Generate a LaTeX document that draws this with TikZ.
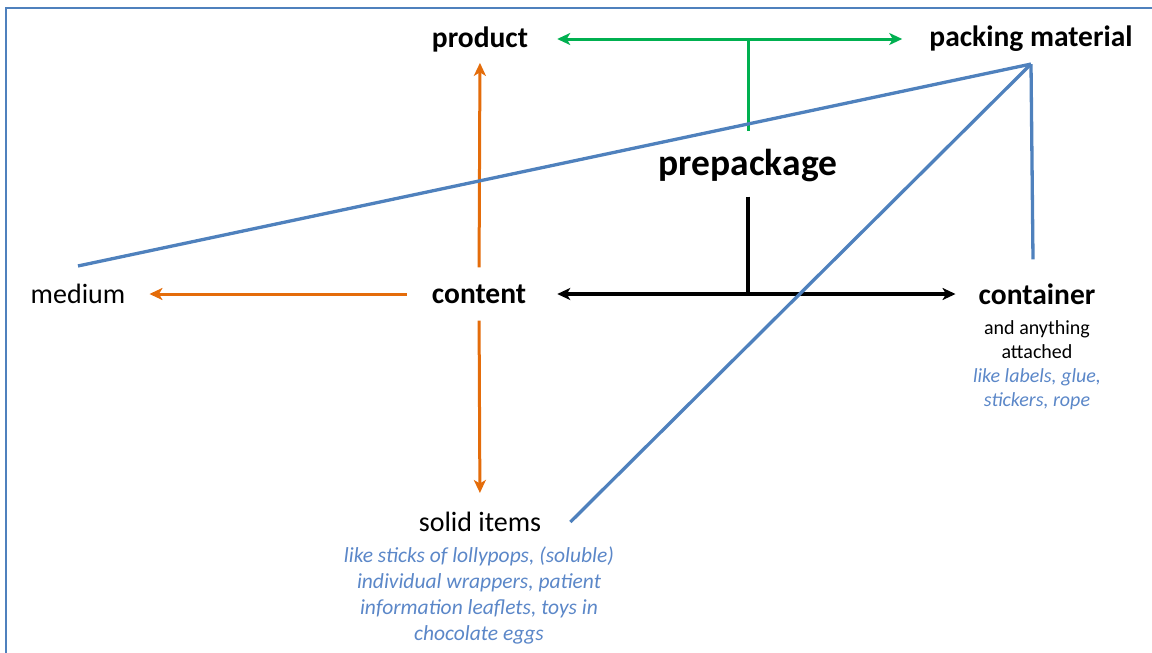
\documentclass[tikz,border=0pt]{standalone}
\usepackage{fontspec}
\setmainfont{Carlito}
\usetikzlibrary{arrows.meta,calc}
\definecolor{offblue}{HTML}{4F81BD}
\definecolor{txtblue}{HTML}{5B87C8}
\definecolor{offorange}{HTML}{E46C0A}
\definecolor{offgreen}{HTML}{00B050}
\tikzset{
  lbl/.style={inner sep=0pt, font=\fontsize{29.5}{32}\selectfont\bfseries},
  lblreg/.style={inner sep=0pt, font=\fontsize{28}{32}\selectfont},
  desc/.style={inner sep=0pt, align=center},
  tip/.style={-{Stealth[length=13pt,width=12pt,inset=3.5pt]}},
  dtip/.style={{Stealth[length=13pt,width=12pt,inset=3.5pt]}-{Stealth[length=13pt,width=12pt,inset=3.5pt]}},
  gline/.style={draw=offgreen, line width=3pt},
  oline/.style={draw=offorange, line width=3pt},
  kline/.style={draw=black, line width=3.2pt},
  bline/.style={draw=offblue, line width=3.3pt},
}
\begin{document}
\begin{tikzpicture}[x=1pt,y=-1pt]
\useasboundingbox (0,0) rectangle (1152,653);
% frame
\draw[offblue, line width=2.4pt] (6,653) -- (6,8) -- (1152,8);

% nodes
\node[lbl] (product) at (480,39) {product};
\node[lbl] (packing) at (1031,39) {packing material};
\node[inner sep=0pt, font=\fontsize{37.5}{40}\selectfont\bfseries] (prepack) at (748,166) {prepackage};
\node[lblreg] (medium) at (78,294) {medium};
\node[lbl] (content) at (479,294) {content};
\node[lbl] (container) at (1037,294) {container};
\node[lblreg] (solid) at (480,522) {solid items};

\node[desc, anchor=north, font=\fontsize{20}{24}\selectfont] (cdesc) at (1037,320)
  {and anything\\attached\\\color{txtblue}\itshape like labels, glue,\\\color{txtblue}\itshape stickers, rope};
\node[desc, anchor=north, font=\fontsize{21.5}{26}\selectfont\itshape, text=txtblue] (sdesc) at (479,547)
  {like sticks of lollypops, (soluble)\\individual wrappers, patient\\information leaflets, toys in\\chocolate eggs};

% junction points
\coordinate (gj) at (prepack.north |- product.east);
\coordinate (kj) at (prepack.south |- content.east);
\coordinate (apex) at ([yshift=-12pt]packing.south);

% green
\draw[gline, dtip, shorten <=29pt, shorten >=27pt] (product.east) -- (packing.west);
\draw[gline, shorten >=18pt] (gj) -- (prepack.north);

% black
\draw[kline, dtip, shorten <=31pt, shorten >=23pt] (content.east) -- (container.west);
\draw[kline, shorten <=14pt] (prepack.south) -- (kj);

% orange
\draw[oline, tip, shorten <=17pt, shorten >=11pt] (content.north) -- (product.south);
\draw[oline, tip, shorten <=25pt, shorten >=24pt] (content.west) -- (medium.east);
\draw[oline, tip, shorten <=17pt, shorten >=19pt] (content.south) -- (solid.north);

% blue
\draw[bline] (apex) -- ([yshift=18pt]medium.north);
\draw[bline] (apex) -- ([xshift=29pt]solid.east);
\draw[bline] (apex) -- ([xshift=-4pt,yshift=24pt]container.north);
\end{tikzpicture}
\end{document}
